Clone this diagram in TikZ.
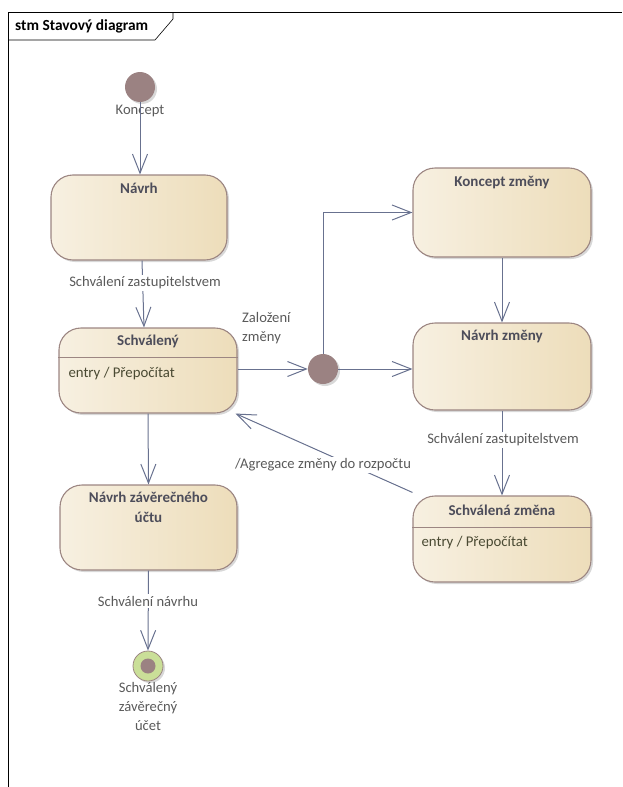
\documentclass[tikz,border=0pt]{standalone}
\usepackage{fontspec}
\setmainfont{Carlito}
\usetikzlibrary{arrows.meta,shadows}

\definecolor{boxline}{HTML}{9C8682}
\definecolor{boxleft}{HTML}{F7F0E1}
\definecolor{boxright}{HTML}{EDDDBA}
\definecolor{arrowcol}{HTML}{68718F}
\definecolor{lblcol}{HTML}{5A5A5A}
\definecolor{titlecol}{HTML}{4D4D5A}
\definecolor{entrycol}{HTML}{4A4A33}
\definecolor{pseudo}{HTML}{9B8282}
\definecolor{finalring}{HTML}{CADF98}

\tikzset{
  statebox/.style={draw=boxline, line width=1.1pt, rounded corners=22pt,
    left color=boxleft, right color=boxright, inner sep=0pt,
    drop shadow={shadow xshift=2pt, shadow yshift=-2pt, opacity=0.22, fill=black!70}},
  statetitle/.style={font=\bfseries\fontsize{15}{20}\selectfont, text=titlecol, align=center},
  entrytext/.style={font=\fontsize{14.8}{16}\selectfont, text=entrycol, anchor=west},
  lbl/.style={font=\fontsize{14.6}{19}\selectfont, text=lblcol, fill=white, inner sep=2pt},
  pseudostate/.style={circle, fill=pseudo, minimum size=30pt, inner sep=0pt,
    drop shadow={shadow xshift=2pt, shadow yshift=-2pt, opacity=0.22, fill=black!70}},
  trans/.style={draw=arrowcol, line width=1pt, -{Straight Barb[length=19pt,width=15pt,line width=1pt]}},
  sepline/.style={draw=boxline, line width=1.1pt}
}

\begin{document}
\begin{tikzpicture}[x=1pt, y=-1pt]
\useasboundingbox (0,0) rectangle (622,787);

% diagram frame with its name tab
\draw[line width=0.6pt] (8,787) -- (8,12) -- (622,12);
\draw[line width=0.6pt] (8,40) -- (155,40) -- (173,19) -- (173,12);
\node[anchor=west, font=\bfseries\fontsize{15.4}{18}\selectfont, inner sep=0pt] (frametitle) at (15,26) {stm Stavový diagram};

% states
\node[statebox, minimum width=176pt, minimum height=85pt] (navrh) at (139,217.5) {};
\node[statetitle] (navrh-t) at ([yshift=-14pt]navrh.north) {Návrh};

\node[statebox, minimum width=178pt, minimum height=85pt] (schvaleny) at (148,370.5) {};
\node[statetitle] (schvaleny-t) at ([yshift=-14pt]schvaleny.north) {Schválený};
\draw[sepline] ([yshift=-30pt]schvaleny.north west) -- ([yshift=-30pt]schvaleny.north east);
\node[entrytext] (schvaleny-e) at (65,374) {entry / Přepočítat};

\node[statebox, minimum width=177pt, minimum height=85pt] (zaverecny) at (148.5,527.5) {};
\node[statetitle, anchor=north] (zaverecny-t) at ([yshift=-4pt]zaverecny.north) {Návrh závěrečného\\účtu};

\node[statebox, minimum width=178pt, minimum height=89pt] (konceptzm) at (502,212.5) {};
\node[statetitle] (konceptzm-t) at ([yshift=-15pt]konceptzm.north) {Koncept změny};

\node[statebox, minimum width=178pt, minimum height=87pt] (navrhzm) at (502,366.5) {};
\node[statetitle] (navrhzm-t) at ([yshift=-14pt]navrhzm.north) {Návrh změny};

\node[statebox, minimum width=178pt, minimum height=86pt] (schvalzm) at (502,539) {};
\node[statetitle] (schvalzm-t) at ([yshift=-15pt]schvalzm.north) {Schválená změna};
\draw[sepline] ([yshift=-32pt]schvalzm.north west) -- ([yshift=-32pt]schvalzm.north east);
\node[entrytext] (schvalzm-e) at (418,543) {entry / Přepočítat};

% pseudostates
\node[pseudostate] (init) at (140,87) {};
\node[lbl, fill=none] (init-l) at (140,111) {Koncept};

\node[pseudostate] (junc) at (323,369) {};

\node[circle, draw=boxline, line width=0.8pt, fill=finalring, minimum size=30pt, inner sep=0pt,
  drop shadow={shadow xshift=2pt, shadow yshift=-2pt, opacity=0.22, fill=black!70}] (final) at (148,666) {};
\node[circle, fill=pseudo, minimum size=15pt, inner sep=0pt] (final-dot) at (final) {};
\node[lbl, fill=none, align=center, anchor=north] (final-l) at (148,680) {Schválený\\závěrečný\\účet};

% transitions
\draw[trans] (init.south) -- (init.south |- navrh.north);

\draw[trans] ([xshift=3pt]navrh.south) -- ([xshift=-4pt]schvaleny.north);
\node[lbl] (l-navrh) at (145,283) {Schválení zastupitelstvem};

\draw[trans] (schvaleny.east |- junc) -- (junc.west);
\node[lbl, fill=none, align=left, anchor=north west, inner sep=0pt] (l-zalozeni) at (242,312) {Založení\\změny};

\draw[trans] (junc.north) |- (konceptzm.west);
\draw[trans] (junc.east) -- (junc -| navrhzm.west);
\draw[trans] (konceptzm.south) -- (navrhzm.north);

\draw[trans] (navrhzm.south) -- (schvalzm.north);
\node[lbl] (l-navrhzm) at (503,440) {Schválení zastupitelstvem};

\draw[trans] ([yshift=3pt]schvalzm.north west) -- ([xshift=-2pt]schvaleny.south east);
\node[lbl] (l-agregace) at (323,465) {/Agregace změny do rozpočtu};

\draw[trans] (schvaleny.south) -- (zaverecny.north);

\draw[trans] (zaverecny.south) -- (final.north);
\node[lbl] (l-zaverecny) at (148,601) {Schválení návrhu};
\end{tikzpicture}
\end{document}
